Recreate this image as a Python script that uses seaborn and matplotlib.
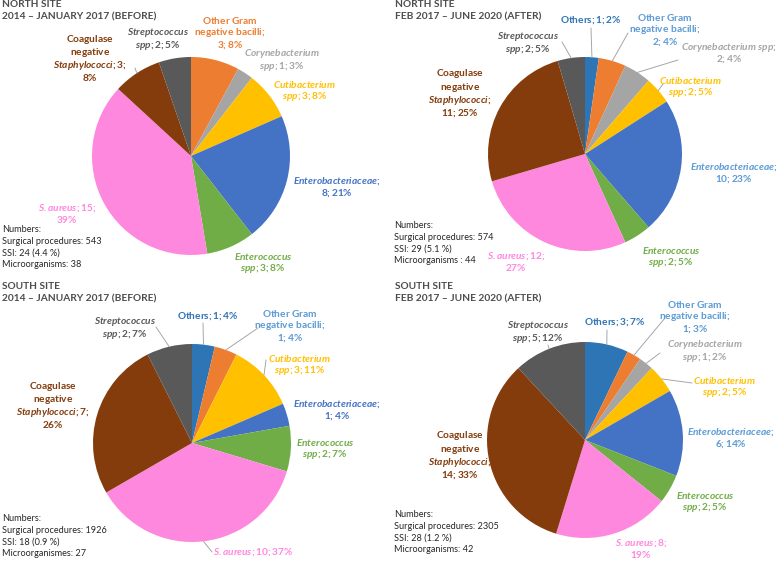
import numpy as np
import matplotlib.pyplot as plt
import seaborn as sns

sns.set_theme(style="white")
plt.rcParams["font.family"] = ["Lato", "DejaVu Sans"]
plt.rcParams["mathtext.fontset"] = "custom"
plt.rcParams["mathtext.rm"] = "Lato:weight=bold"
plt.rcParams["mathtext.it"] = "Lato:style=italic:weight=bold"
plt.rcParams["mathtext.bf"] = "Lato:weight=bold"
plt.rcParams["mathtext.bfit"] = "Lato:style=italic:weight=bold"

W, H = 777, 564

# organisms, clockwise from 12 o'clock
organisms = ["Others", "Other Gram negative bacilli", "Corynebacterium spp",
             "Cutibacterium spp", "Enterobacteriaceae", "Enterococcus spp",
             "S. aureus", "Coagulase negative Staphylococci", "Streptococcus spp"]
slice_colors = ["#2E75B6", "#ED7D31", "#A5A5A5", "#FFC000", "#4472C4",
                "#70AD47", "#FF88DF", "#843C0C", "#595959"]

north_before_n = [0, 3, 1, 3, 8, 3, 15, 3, 2]
north_before_pct = [0, 8, 3, 8, 21, 8, 39, 8, 5]
north_after_n = [1, 2, 2, 2, 10, 2, 12, 11, 2]
north_after_pct = [2, 4, 4, 5, 23, 5, 27, 25, 5]
south_before_n = [1, 1, 0, 3, 1, 2, 10, 7, 2]
south_before_pct = [4, 4, 0, 11, 4, 7, 37, 26, 7]
south_after_n = [3, 1, 1, 2, 6, 2, 8, 14, 5]
south_after_pct = [7, 3, 2, 5, 14, 5, 19, 33, 12]

titles = ["NORTH SITE\n2014 \u2013 JANUARY 2017 (BEFORE)",
          "NORTH SITE\nFEB 2017 \u2013 JUNE 2020 (AFTER)",
          "SOUTH SITE\n2014 \u2013 JANUARY 2017 (BEFORE)",
          "SOUTH SITE\nFEB 2017 \u2013 JUNE 2020 (AFTER)"]
numbers = ["Numbers:\nSurgical procedures: 543\nSSI: 24 (4.4 %)\nMicroorganisms: 38",
           "Numbers:\nSurgical procedures: 574\nSSI: 29 (5.1 %)\nMicroorganisms : 44",
           "Numbers:\nSurgical procedures: 1926\nSSI: 18 (0.9 %)\nMicroorganismes: 27",
           "Numbers:\nSurgical procedures: 2305\nSSI: 28 (1.2 %)\nMicroorganisms: 42"]

LB = "#5B9BD5"
label_colors = [
    ["#2E75B6", "#ED7D31", "#A5A5A5", "#FFC000", "#4472C4", "#70AD47", "#FF88DF", "#843C0C", "#595959"],
    ["#2E75B6", LB, "#A5A5A5", "#FFC000", LB, "#70AD47", "#FF88DF", "#843C0C", "#595959"],
    ["#2E75B6", LB, "#A5A5A5", "#FFC000", "#4472C4", "#70AD47", "#FF88DF", "#843C0C", "#595959"],
    ["#2E75B6", LB, "#A5A5A5", "#FFC000", LB, "#70AD47", "#FF88DF", "#843C0C", "#595959"],
]


def to_math(line):
    # *...* marks italic parts; whole line goes through mathtext for even line heights
    out = ""
    for j, part in enumerate(line.split("*")):
        if not part:
            continue
        # mathtext already pads ';' and '.', so drop the space that follows them
        s = part.replace("; ", ";").replace(". ", ".")
        s = s.replace(" ", "\\ ").replace("%", "\\%")
        out += ("\\mathbfit{" if j % 2 else "\\mathbf{") + s + "}"
    return "$" + out + "$"


OG = "Other Gram\nnegative bacilli;\n#N; #P%"
CO2 = "*Corynebacterium*\n*spp*; #N; #P%"
CU = "*Cutibacterium*\n*spp*; #N; #P%"
EB = "*Enterobacteriaceae*;\n#N; #P%"
EC = "*Enterococcus*\n*spp*; #N; #P%"
ST = "*Streptococcus*\n*spp*; #N; #P%"

# layout per panel: pie centre/radius (px), title/number anchors, labels
panels = [
    dict(n=north_before_n, p=north_before_pct, c=(191, 156), r=99, t=(2, 0), nb=(2, 225),
         lab=[None,
              (OG, 230, 33, None),
              (CO2, 282, 60, None),
              (CU, 305, 91, None),
              (EB, 337, 187, None),
              (EC, 263, 263, None),
              ("*S. aureus*; #N;\n#P%", 67, 214, None),
              ("Coagulase\nnegative\n*Staphylococci*; #N;\n#P%", 90, 58, (135, 68)),
              (ST, 158, 39, None)]),
    dict(n=north_after_n, p=north_after_pct, c=(585, 154), r=97, t=(395, 0), nb=(394, 221),
         lab=[("Others; #N; #P%", 591, 20, (591, 28)),
              (OG, 665, 30, (628, 33)),
              ("*Corynebacterium spp*;\n#N; #P%", 729, 53, (678, 60)),
              (CU, 691, 87, (663, 84)),
              (EB, 734, 173, None),
              (EC, 671, 257, None),
              ("*S. aureus*; #N;\n#P%", 516, 262, None),
              ("Coagulase\nnegative\n*Staphylococci*;\n#N; #P%", 460, 93, None),
              (ST, 528, 43, (562, 42))]),
    dict(n=south_before_n, p=south_before_pct, c=(192, 443), r=99, t=(2, 282), nb=(2, 514),
         lab=[("Others; #N; #P%", 208, 316, (203, 323)),
              (OG, 290, 326, (258, 328)),
              None,
              (CU, 300, 365, (266, 360)),
              (EB, 337, 410, None),
              (EC, 325, 449, None),
              ("*S. aureus*; #N; #P%", 253, 552, (212, 552)),
              ("Coagulase\nnegative\n*Staphylococci*; #N;\n#P%", 53, 405, None),
              (ST, 125, 328, (156, 327))]),
    dict(n=south_after_n, p=south_after_pct, c=(585, 440), r=98, t=(395, 282), nb=(394, 510),
         lab=[("Others; #N; #P%", 615, 322, (607, 330)),
              (OG, 695, 317, (665, 318)),
              (CO2, 705, 351, (660, 353)),
              (CU, 725, 387, (692, 383)),
              (EB, 731, 438, None),
              (EC, 705, 502, None),
              ("*S. aureus*; #N;\n#P%", 641, 549, None),
              ("Coagulase\nnegative\n*Staphylococci*;\n#N; #P%", 460, 455, None),
              (ST, 538, 332, (548, 345))]),
]

fig = plt.figure(figsize=(7.77, 5.64), dpi=100)
ax = fig.add_axes([0, 0, 1, 1])

for k, pn in enumerate(panels):
    keep = [i for i, v in enumerate(pn["n"]) if v > 0]
    cx, cy = pn["c"][0], H - pn["c"][1]
    wedges, _ = ax.pie([pn["n"][i] for i in keep], colors=[slice_colors[i] for i in keep],
                       startangle=90, counterclock=False, center=(cx, cy), radius=pn["r"],
                       wedgeprops=dict(linewidth=0))
    for w, i in zip(wedges, keep):
        lab = pn["lab"][i]
        if lab is None:
            continue
        tmpl, lx, ly, lead = lab
        raw = tmpl.replace("#N", str(pn["n"][i])).replace("#P", str(pn["p"][i]))
        txt = "\n".join(to_math(l) for l in raw.split("\n"))
        ax.text(lx, H - ly, txt, ha="center", va="center", multialignment="center",
                fontsize=7.3, fontweight="bold", color=label_colors[k][i], linespacing=1.02)
        if lead is not None:
            a = np.deg2rad((w.theta1 + w.theta2) / 2)
            x0 = cx + pn["r"] * np.cos(a)
            y0 = cy + pn["r"] * np.sin(a)
            ax.plot([x0, lead[0]], [y0, H - lead[1]], color="#A6A6A6", lw=0.7)
    ax.text(pn["t"][0], H - pn["t"][1], titles[k], ha="left", va="top", fontsize=7.3,
            fontweight="bold", color="#4D4D4D", linespacing=1.45)
    ax.text(pn["nb"][0], H - pn["nb"][1], numbers[k], ha="left", va="top", fontsize=6.6,
            color="#262626", linespacing=1.4)

ax.set_xlim(0, W)
ax.set_ylim(0, H)
ax.set_aspect("equal")
ax.axis("off")

fig.savefig("out.png", dpi=100)
